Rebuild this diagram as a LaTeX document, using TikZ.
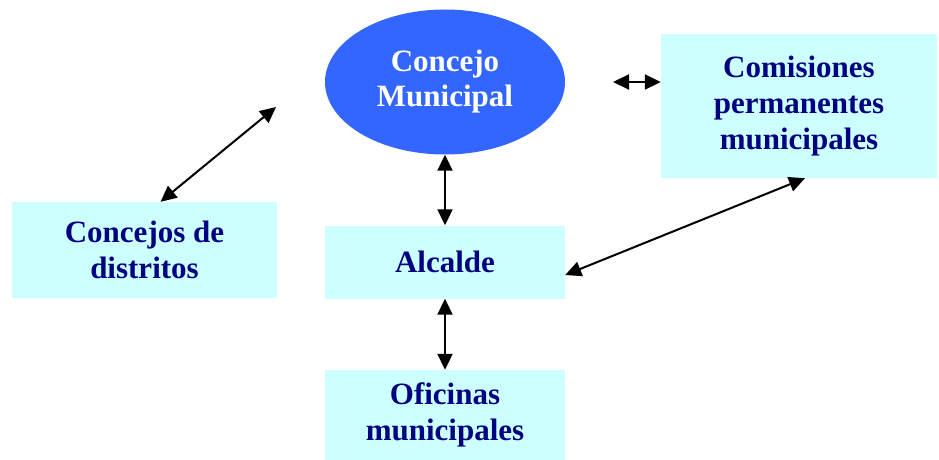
\documentclass[tikz,border=0pt]{standalone}
\usepackage{fontspec}
\setmainfont{Liberation Serif}
\usetikzlibrary{arrows.meta,shapes.geometric}
\definecolor{boxfill}{HTML}{CCFFFF}
\definecolor{ellfill}{HTML}{3366FF}
\definecolor{navytext}{HTML}{000080}
\begin{document}
\begin{tikzpicture}[x=1pt,y=-1pt,
  lbl/.style={font=\bfseries\fontsize{31}{36}\selectfont, align=center},
  cbox/.style={lbl, fill=boxfill, text=navytext, inner sep=0pt},
  conn/.style={line width=2pt, {Triangle[length=16pt,width=15pt]}-{Triangle[length=16pt,width=15pt]}}
]
\useasboundingbox (0,0) rectangle (939,460);
\node[ellipse, fill=ellfill, text=white, lbl, minimum width=240pt, minimum height=145pt, inner sep=0pt] (ell) at (445,82) {Concejo\\[-1pt]Municipal};
\node[cbox, minimum width=276pt, minimum height=144pt] (com) at (799,106) {Comisiones\\permanentes\\municipales};
\node[cbox, minimum width=265pt, minimum height=96pt] (dis) at (144.5,250) {Concejos de\\distritos};
\node[cbox, minimum width=240pt, minimum height=73pt] (alc) at (445,262) {Alcalde};
\node[cbox, minimum width=240pt, minimum height=90pt] (ofi) at (445,415) {Oficinas\\municipales};
\coordinate (disfree) at (276,107);
\coordinate (comfree) at (613,82);
\draw[conn] (ell.south) -- (alc.north);
\draw[conn] (alc.south) -- (ofi.north);
\draw[conn] ([xshift=16pt]dis.north) -- (disfree);
\draw[conn] (comfree) -- ([yshift=24pt]com.west);
\draw[conn] ([yshift=-13pt]alc.east) -- ([xshift=6pt]com.south);
\end{tikzpicture}
\end{document}
